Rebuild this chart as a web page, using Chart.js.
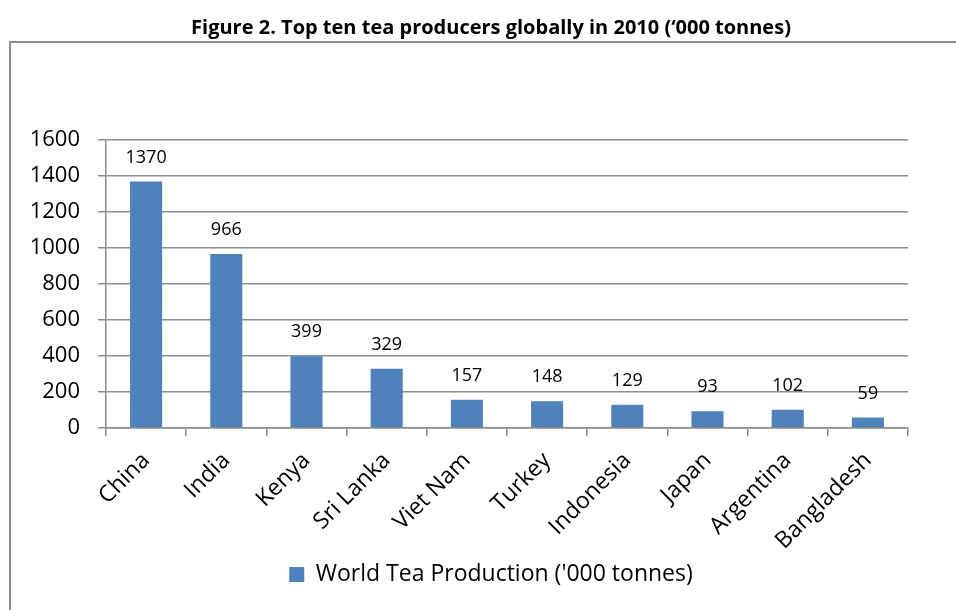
<!DOCTYPE html>
<html>
<head>
<meta charset="utf-8">
<script src="https://cdn.jsdelivr.net/npm/chart.js@4.4.1/dist/chart.umd.min.js"></script>
<style>
html,body{margin:0;padding:0;background:#fff;}
#wrap{position:relative;width:956px;height:610px;}
</style>
</head>
<body>
<div id="wrap"><canvas id="c" width="956" height="610"></canvas></div>
<script>
const titleText = "Figure 2. Top ten tea producers globally in 2010 (\u2018000 tonnes)";
const seriesName = "World Tea Production ('000 tonnes)";
const categories = ["China","India","Kenya","Sri Lanka","Viet Nam","Turkey","Indonesia","Japan","Argentina","Bangladesh"];
const production = [1370, 966, 399, 329, 157, 148, 129, 93, 102, 59];
const yTicks = [0, 200, 400, 600, 800, 1000, 1200, 1400, 1600];

const FONT = "'Open Sans', 'Noto Sans', sans-serif";
const GRID = '#8c8c8c';
const BAR = '#4F81BD';

const framePlugin = {
  id: 'frame',
  beforeDraw(chart) {
    const ctx = chart.ctx;
    ctx.save();
    ctx.strokeStyle = GRID;
    ctx.lineWidth = 2;
    ctx.beginPath();
    ctx.moveTo(10, 640);
    ctx.lineTo(10, 42);
    ctx.lineTo(1000, 42);
    ctx.stroke();
    ctx.restore();
  }
};

// y tick labels drawn through the y scale (the library clips them to the narrow scale box otherwise)
const yLabelPlugin = {
  id: 'yLabels',
  afterDraw(chart) {
    const ctx = chart.ctx;
    const ys = chart.scales.y;
    ctx.save();
    ctx.font = '22px ' + FONT;
    ctx.fillStyle = '#000';
    ctx.textAlign = 'right';
    ctx.textBaseline = 'middle';
    yTicks.forEach(v => {
      ctx.fillText(String(v), ys.right - 8 - 18, ys.getPixelForValue(v));
    });
    ctx.restore();
  }
};

const labelPlugin = {
  id: 'valueLabels',
  afterDatasetsDraw(chart) {
    const ctx = chart.ctx;
    const meta = chart.getDatasetMeta(0);
    ctx.save();
    ctx.font = '18px ' + FONT;
    ctx.fillStyle = '#000';
    ctx.textAlign = 'center';
    ctx.textBaseline = 'bottom';
    meta.data.forEach((bar, i) => {
      ctx.fillText(String(production[i]), bar.x, bar.y - 15);
    });
    ctx.restore();
  }
};

new Chart(document.getElementById('c'), {
  type: 'bar',
  data: {
    labels: categories,
    datasets: [{
      label: seriesName,
      data: production,
      backgroundColor: BAR,
      borderWidth: 0,
      barPercentage: 0.4,
      categoryPercentage: 1.0
    }]
  },
  options: {
    responsive: false,
    animation: false,
    devicePixelRatio: 1,
    layout: { padding: { left: 74, right: 48, top: 0, bottom: 14 } },
    plugins: {
      title: {
        display: true,
        text: titleText,
        color: '#000',
        font: { family: FONT, weight: 'bold', size: 20 },
        padding: { top: 16, bottom: 100 }
      },
      legend: {
        display: true,
        position: 'bottom',
        labels: {
          color: '#000',
          font: { family: FONT, size: 23 },
          boxWidth: 15,
          boxHeight: 15,
          padding: 6
        }
      },
      tooltip: { enabled: false }
    },
    scales: {
      x: {
        afterFit(scale) { scale.height = 129; },
        grid: { display: true, drawOnChartArea: false, drawTicks: true, tickLength: 8, color: GRID, lineWidth: 1.5, offset: true },
        border: { display: true, color: GRID, width: 1.5 },
        ticks: {
          autoSkip: false, minRotation: 45, maxRotation: 45,
          color: '#000', font: { family: FONT, size: 23 }, padding: 11
        }
      },
      y: {
        min: 0, max: 1600,
        afterBuildTicks(scale) { scale.ticks = yTicks.map(v => ({ value: v })); },
        afterFit(scale) { scale.width = 32; },
        grid: { color: GRID, lineWidth: 1.5, tickLength: 8, drawTicks: true },
        border: { display: true, color: GRID, width: 1.5 },
        ticks: { display: false }
      }
    }
  },
  plugins: [framePlugin, yLabelPlugin, labelPlugin]
});
</script>
</body>
</html>
